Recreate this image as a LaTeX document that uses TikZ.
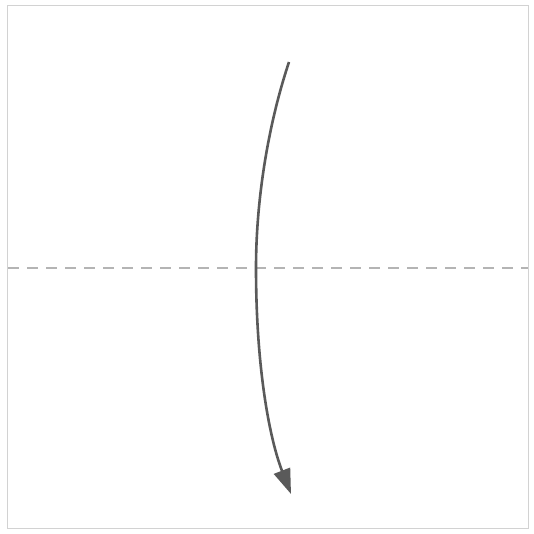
\documentclass[tikz,border=0pt]{standalone}
\usetikzlibrary{arrows.meta}
\definecolor{papergray}{HTML}{D2D2D2}
\definecolor{foldgray}{HTML}{B4B4B4}
\definecolor{arrowgray}{HTML}{5A5A5A}
\tikzset{
  paper/.style={draw=papergray, line width=1pt},
  valley/.style={draw=foldgray, line width=1.2pt, dash pattern=on 11pt off 8pt},
  foldarrow/.style={draw=arrowgray, line width=2.6pt, -{Triangle[length=25pt,width=17pt]}}
}
\begin{document}
\begin{tikzpicture}[x=1pt,y=-1pt]
\useasboundingbox (0,0) rectangle (534,533);
\fill[white] (0,0) rectangle (534,533);
\coordinate (tl) at (7,5);
\coordinate (br) at (528,528);
\draw[paper] (tl) rectangle (br);
\coordinate (fl) at (8,268);
\coordinate (fr) at (528,268);
\draw[valley] (fl) -- (fr);
\coordinate (as) at (289,62);
\coordinate (am) at (256,268);
\coordinate (ae) at (291,494);
\draw[foldarrow] (as) .. controls (268,125) and (256,200) .. (am)
  .. controls (256,370) and (270,440) .. (ae);
\end{tikzpicture}
\end{document}
